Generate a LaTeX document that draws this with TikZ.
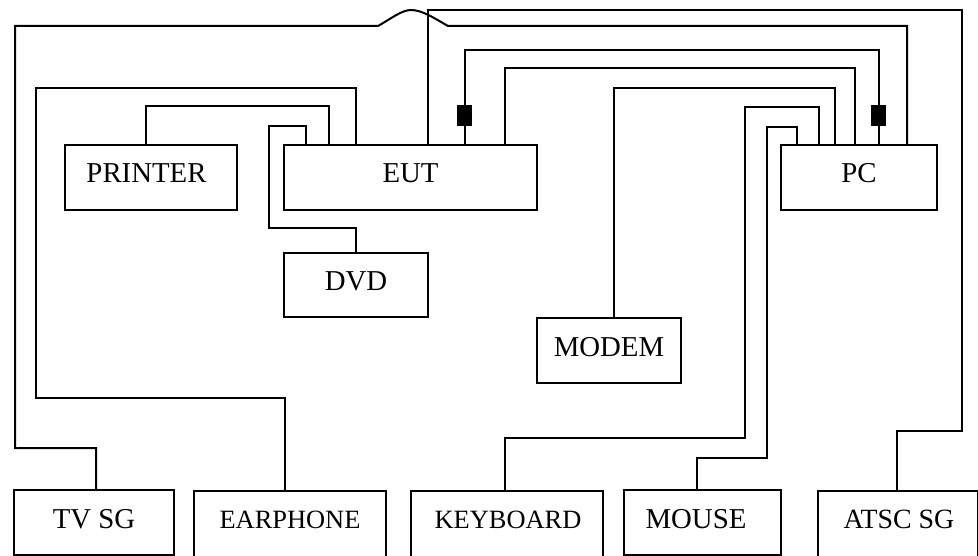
\documentclass[tikz,border=0pt]{standalone}
\usepackage{fontspec}
\setmainfont{Liberation Serif}
\tikzset{
  devbox/.style n args={2}{draw=black,line width=1.7pt,inner sep=0pt,outer sep=0pt,
    minimum width=#1*0.75pt,minimum height=#2*0.75pt,
    text height=8.25pt,text depth=0pt,
    font=\fontsize{21.6}{24}\selectfont},
  smalltext/.style={font=\fontsize{19.8}{24}\selectfont},
  midtext/.style={font=\fontsize{20.9}{24}\selectfont},
  thinbox/.style={line width=1.5pt},
  wire/.style={draw=black,line width=1.5pt,line join=miter},
  plug/.style={draw=none,fill=black,inner sep=0pt,outer sep=0pt,
    minimum width=11.6pt,minimum height=16pt},
}
\begin{document}
\begin{tikzpicture}[x=0.75pt,y=-0.75pt]
\clip (0,0) rectangle (978,556);
\fill[white] (0,0) rectangle (978,556);
% devices
\node[devbox={172}{65}] (printer) at (151,177.5) {PRINTER\hspace*{6.75pt}};
\node[devbox={253}{65}] (eut) at (410.5,177.5) {EUT};
\node[devbox={144}{64}] (dvd) at (356,285) {DVD};
\node[devbox={144}{65}] (modem) at (609,350.5) {MODEM};
\node[devbox={156}{65}] (pc) at (859,177.5) {PC};
\node[devbox={160}{65}] (tvsg) at (94,522.5) {TV SG};
\node[devbox={192}{67},smalltext,thinbox] (earphone) at (290,524.5) {\raisebox{1pt}{EARPHONE}};
\node[devbox={192}{67},smalltext,thinbox] (keyboard) at (507,524.5) {\hspace*{1.5pt}\raisebox{1pt}{KEYBOARD}};
\node[devbox={157}{65}] (mouse) at (702.5,522.5) {MOUSE\hspace*{9.75pt}};
\node[devbox={160}{67},midtext,thinbox] (atsc) at (898,524.5) {\hspace*{1.5pt}\raisebox{1pt}{ATSC SG}};
% ferrite plugs
\coordinate (plugE) at (464.5,115.5);
\coordinate (plugP) at (878.5,115.5);
% connectors
\draw[wire] (96,0 |- tvsg.north) |- (15,448) -- (15,26) -- (378,26)
  .. controls (392,18) and (402,10) .. (411,10)
  .. controls (422,10) and (434,18) .. (448,26)
  -| (907,0 |- pc.north);
\draw[wire] (428,0 |- eut.north) |- (962,10) |- (897,431) -- (897,0 |- atsc.north);
\draw[wire] (465,0 |- eut.north) |- (879,50) -- (879,0 |- pc.north);
\draw[wire] (505,0 |- eut.north) |- (855,68) -- (855,0 |- pc.north);
\draw[wire] (modem.north -| 614,0) |- (835,88) -- (835,0 |- pc.north);
\draw[wire] (819,0 |- pc.north) |- (745,107) |- (505,438) -- (505,0 |- keyboard.north);
\draw[wire] (797,0 |- pc.north) |- (767,127) |- (697,458) -- (697,0 |- mouse.north);
\draw[wire] (356,0 |- eut.north) |- (36,88) |- (285,398) -- (285,0 |- earphone.north);
\draw[wire] (146,0 |- printer.north) |- (329,106) -- (329,0 |- eut.north);
\draw[wire] (306,0 |- eut.north) |- (269,126) |- (356,228) -- (dvd.north);
\node[plug] (ferriteE) at (plugE) {};
\node[plug] (ferriteP) at (plugP) {};
\end{tikzpicture}
\end{document}
